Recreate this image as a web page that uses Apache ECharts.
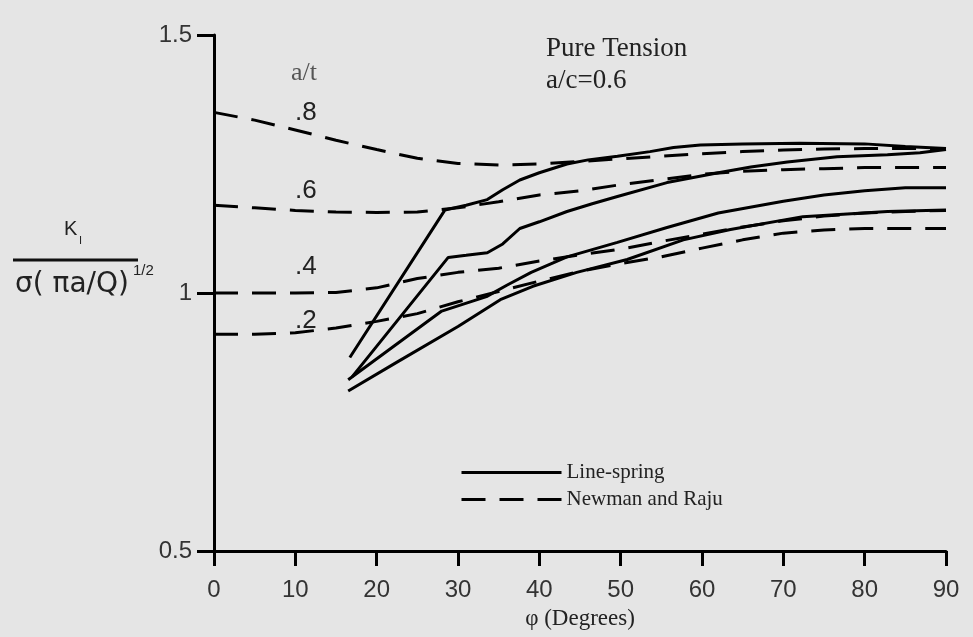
<!DOCTYPE html>
<html>
<head>
<meta charset="utf-8">
<script src="https://cdn.jsdelivr.net/npm/echarts@6/dist/echarts.min.js"></script>
<style>
  html, body { margin: 0; padding: 0; background: #e5e5e5; }
  #chart { width: 973px; height: 637px; }
</style>
</head>
<body>
<div id="chart"></div>
<script>
// Newman and Raju (dashed) - common phi grid
var phiNR = [0, 5, 10, 15, 20, 25, 30, 35, 40, 45, 50, 55, 60, 65, 70, 75, 80, 85, 90];
var nr08 = [1.350, 1.335, 1.316, 1.296, 1.278, 1.261, 1.251, 1.248, 1.250, 1.255, 1.260, 1.265, 1.270, 1.274, 1.277, 1.279, 1.280, 1.280, 1.280];
var nr06 = [1.170, 1.165, 1.160, 1.157, 1.156, 1.157, 1.165, 1.177, 1.190, 1.198, 1.210, 1.220, 1.230, 1.236, 1.239, 1.241, 1.243, 1.243, 1.243];
var nr04 = [1.000, 1.000, 1.000, 1.001, 1.010, 1.028, 1.040, 1.048, 1.062, 1.074, 1.085, 1.100, 1.114, 1.128, 1.140, 1.149, 1.155, 1.158, 1.160];
var nr02 = [0.920, 0.920, 0.923, 0.932, 0.945, 0.960, 0.983, 1.003, 1.023, 1.042, 1.057, 1.070, 1.087, 1.103, 1.116, 1.122, 1.125, 1.125, 1.125];

// Line-spring (solid)
var phiLS08 = [16.7, 28.4, 31, 33.6, 35.5, 37.6, 40, 43.4, 46, 49.6, 53.6, 56.5, 59.8, 65, 72, 80, 85, 90];
var ls08 = [0.875, 1.161, 1.170, 1.181, 1.200, 1.219, 1.233, 1.250, 1.258, 1.265, 1.274, 1.282, 1.287, 1.289, 1.290, 1.289, 1.284, 1.280];
var phiLS06 = [17, 28.8, 31, 33.6, 35.5, 37.6, 40, 43.4, 46.5, 49.6, 55.7, 62, 66, 70.5, 76.6, 82.8, 86.8, 90];
var ls06 = [0.838, 1.069, 1.073, 1.078, 1.095, 1.125, 1.138, 1.158, 1.173, 1.187, 1.214, 1.233, 1.244, 1.254, 1.264, 1.268, 1.272, 1.278];
var phiLS04 = [16.5, 28, 33.5, 36, 39, 43.4, 49.6, 55.7, 62, 70, 75, 80, 85, 90];
var ls04 = [0.832, 0.965, 0.993, 1.015, 1.040, 1.070, 1.098, 1.127, 1.155, 1.178, 1.190, 1.198, 1.204, 1.204];
var phiLS02 = [16.5, 22.5, 30, 35.2, 39.2, 44.6, 50.8, 57.7, 63.5, 72.4, 82.8, 90];
var ls02 = [0.810, 0.866, 0.935, 0.987, 1.013, 1.040, 1.065, 1.103, 1.123, 1.148, 1.158, 1.161];

var xTicks = [0, 10, 20, 30, 40, 50, 60, 70, 80, 90];
var yTicks = [0.5, 1, 1.5];
var ratioLabels = ['.8', '.6', '.4', '.2'];

function pairs(xs, ys) {
    var out = [];
    for (var i = 0; i < xs.length; i++) out.push([xs[i], ys[i]]);
    return out;
}

var serif = '"Liberation Serif", "DejaVu Serif", serif';
var sans = '"Liberation Sans", Arial, sans-serif';
var wide = '"DejaVu Sans", "Liberation Sans", sans-serif';

function solid(xs, ys) {
    return {
        name: 'Line-spring', type: 'line', data: pairs(xs, ys),
        symbol: 'none', smooth: false, silent: true,
        itemStyle: { color: '#000' },
        lineStyle: { color: '#000', width: 3 }
    };
}
function dashed(ys) {
    return {
        name: 'Newman and Raju', type: 'line', data: pairs(phiNR, ys),
        symbol: 'none', smooth: false, silent: true,
        itemStyle: { color: '#000' },
        lineStyle: { color: '#000', width: 3, type: [24, 14] }
    };
}

var dom = document.getElementById('chart');
var myChart = echarts.init(dom, null, { renderer: 'canvas' });

var option = {
    backgroundColor: '#e5e5e5',
    animation: false,
    grid: { left: 214, right: 27, top: 35, bottom: 86, outerBoundsMode: 'none', containLabel: false },
    legend: {
        data: ['Line-spring', 'Newman and Raju'],
        orient: 'vertical',
        left: 455, top: 457,
        itemWidth: 100, itemHeight: 14, itemGap: 6,
        itemStyle: { opacity: 0 },
        lineStyle: { width: 3 },
        textStyle: { fontFamily: serif, fontSize: 21, color: '#222' }
    },
    xAxis: {
        type: 'value', min: 0, max: 90, interval: 10,
        name: 'φ (Degrees)', nameLocation: 'middle', nameGap: 56,
        nameTextStyle: { fontFamily: serif, fontSize: 23, color: '#222' },
        axisLine: { lineStyle: { color: '#000', width: 3 } },
        axisTick: { show: true, length: 15, lineStyle: { color: '#000', width: 3 } },
        axisLabel: { margin: 27, fontFamily: sans, fontSize: 24, color: '#333',
            formatter: function (v) { return xTicks.indexOf(v) >= 0 ? String(v) : ''; } },
        splitLine: { show: false }
    },
    yAxis: {
        type: 'value', min: 0.5, max: 1.5, interval: 0.5,
        axisLine: { show: true, lineStyle: { color: '#000', width: 3 } },
        axisTick: { show: true, length: 17, lineStyle: { color: '#000', width: 3 } },
        axisLabel: { margin: 22, fontFamily: sans, fontSize: 24, color: '#333',
            formatter: function (v) { return yTicks.indexOf(v) >= 0 ? String(v) : ''; } },
        splitLine: { show: false }
    },
    graphic: [
        { type: 'text', left: 546, top: 35, style: { text: 'Pure Tension', font: '27px ' + serif, fill: '#222' } },
        { type: 'text', left: 546, top: 67, style: { text: 'a/c=0.6', font: '27px ' + serif, fill: '#222' } },
        { type: 'text', left: 291, top: 60, style: { text: 'a/t', font: '26px ' + serif, fill: '#555' } },
        { type: 'text', left: 295, top: 100, style: { text: ratioLabels[0], font: '26px ' + sans, fill: '#222' } },
        { type: 'text', left: 295, top: 178, style: { text: ratioLabels[1], font: '26px ' + sans, fill: '#222' } },
        { type: 'text', left: 295, top: 254, style: { text: ratioLabels[2], font: '26px ' + sans, fill: '#222' } },
        { type: 'text', left: 295, top: 308, style: { text: ratioLabels[3], font: '26px ' + sans, fill: '#222' } },
        // y axis title as a fraction
        { type: 'text', left: 64, top: 219, style: { text: 'K', font: '20px ' + sans, fill: '#222' } },
        { type: 'text', left: 79, top: 235, style: { text: 'I', font: '11px ' + sans, fill: '#222' } },
        { type: 'line', shape: { x1: 13, y1: 260, x2: 138, y2: 260 }, style: { stroke: '#111', lineWidth: 3 } },
        { type: 'text', left: 15, top: 271, style: { text: 'σ( πa/Q)', font: '28px ' + wide, fill: '#222' } },
        { type: 'text', left: 133, top: 263, style: { text: '1/2', font: '15px ' + sans, fill: '#222' } }
    ],
    series: [
        dashed(nr08), dashed(nr06), dashed(nr04), dashed(nr02),
        solid(phiLS08, ls08), solid(phiLS06, ls06), solid(phiLS04, ls04), solid(phiLS02, ls02)
    ]
};

if (option && typeof option === 'object') {
    myChart.setOption(option, true);
}
</script>
</body>
</html>
